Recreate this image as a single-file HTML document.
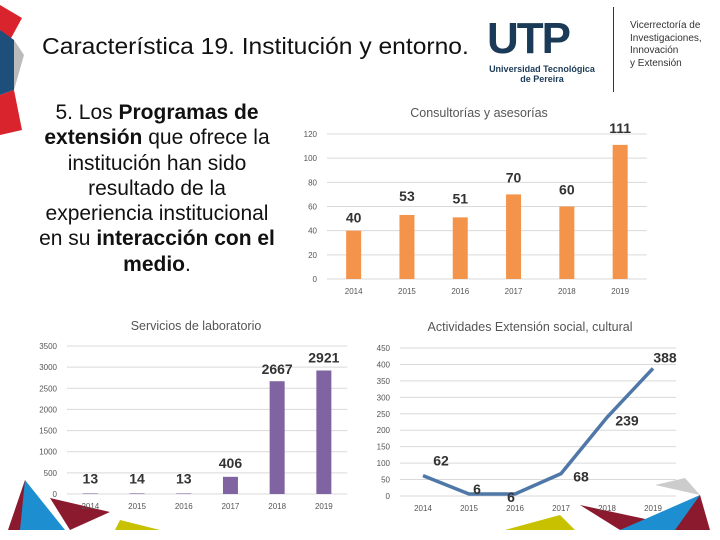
<!DOCTYPE html>
<html><head><meta charset="utf-8"><style>
body{margin:0;width:720px;height:540px;background:#fff;overflow:hidden;position:relative;font-family:"Liberation Sans",sans-serif}
.abs{position:absolute}
</style></head><body>
<svg class="abs" style="left:0;top:0" width="720" height="540">
<polygon points="0,5 22,18 10,40 0,30" fill="#d9232d"/>
<polygon points="0,30 14,40 14,90 0,95" fill="#1d4f7a"/>
<polygon points="14,40 24,55 14,90" fill="#bbb"/>
<polygon points="0,95 14,90 22,130 0,135" fill="#d9232d"/>
<polygon points="8,530 25,480 60,530" fill="#8c1a2e"/>
<polygon points="25,480 65,530 20,530" fill="#1d8fd0"/>
<polygon points="50,498 110,512 70,530" fill="#8c1a2e"/>
<polygon points="120,520 160,530 115,530" fill="#c7c100"/>
<polygon points="505,530 560,515 575,530" fill="#c7c100"/>
<polygon points="580,505 650,520 620,530" fill="#8c1a2e"/>
<polygon points="620,530 700,495 700,530" fill="#1d8fd0"/>
<polygon points="675,530 700,495 710,530" fill="#8c1a2e"/>
<polygon points="655,485 685,478 700,495" fill="#ccc"/>
</svg>
<div class="abs" style="left:42px;top:33px;font-size:23px;color:#111;transform:scaleX(1.07);transform-origin:left top;white-space:nowrap">Característica 19. Institución y entorno.</div>
<div class="abs" style="left:487px;top:14px;width:110px;height:70px">
<div style="font-size:44px;font-weight:bold;color:#1b3a57;letter-spacing:-2px;line-height:50px">UTP</div>
<div style="font-size:9px;color:#1b3a57;text-align:center;line-height:10px;font-weight:bold">Universidad Tecnológica<br>de Pereira</div></div>
<div class="abs" style="left:613px;top:7px;width:1px;height:85px;background:#1b3a57"></div>
<div class="abs" style="left:630px;top:20px;font-size:10px;line-height:12.5px;color:#333">Vicerrectoría de<br>Investigaciones,<br>Innovación<br>y Extensión</div>
<div class="abs" style="left:17px;top:100px;width:280px;text-align:center;font-size:21px;line-height:25.3px;color:#111;white-space:nowrap">5. Los <b>Programas de</b><br><b>extensión</b> que ofrece la<br>institución han sido<br>resultado de la<br>experiencia institucional<br>en su <b>interacción con el</b><br><b>medio</b>.</div>
<svg id="c" class="abs" style="left:0;top:0" width="720" height="540"></svg>
<script>
const years=["2014","2015","2016","2017","2018","2019"];
const consult=[40,53,51,70,60,111];
const consultTicks=[0,20,40,60,80,100,120];
const lab=[13,14,13,406,2667,2921];
const labTicks=[0,500,1000,1500,2000,2500,3000,3500];
const social=[62,6,6,68,239,388];
const socialTicks=[0,50,100,150,200,250,300,350,400,450];
const S=document.getElementById('c'),NS='http://www.w3.org/2000/svg';
function mk(t,a,txt){const e=document.createElementNS(NS,t);for(const k in a)e.setAttribute(k,a[k]);if(txt!==undefined)e.textContent=txt;S.appendChild(e);return e;}
function chart(o){
 const y=v=>o.y0-(v/o.max)*(o.y0-o.y1);
 const x=i=>o.x0+o.step*(i+0.5);
 o.ticks.forEach(t=>{const g=mk('line',{x1:o.x0,x2:o.x0+o.step*6,y1:y(t),y2:y(t),stroke:'#d9d9d9','stroke-width':1});
 
 const l=mk('text',{x:o.x0-10,y:y(t)+3,'font-size':8,fill:'#555','text-anchor':'end'},t);
 });
 years.forEach((yr,i)=>{const l=mk('text',{x:x(i),y:o.y0+15,'font-size':8,fill:'#555','text-anchor':'middle'},yr);
 });
 const t=mk('text',{x:o.tx,y:o.ty,'font-size':12.5,fill:'#555','text-anchor':'middle'},o.title);
 
 if(o.type==='bar'){o.data.forEach((v,i)=>{const r=mk('rect',{x:x(i)-7.5,y:y(v),width:15,height:o.y0-y(v),fill:o.color});
 
 const l=mk('text',{x:x(i)+(o.lx?o.lx[i]:0),y:Math.min(y(v)-6,o.y0-6)+(o.ly?o.ly[i]:0),'font-size':14,'font-weight':'bold',fill:'#333','text-anchor':'middle'},v);
 });}
 else{const p=mk('polyline',{points:o.data.map((v,i)=>x(i)+','+y(v)).join(' '),fill:'none',stroke:o.color,'stroke-width':3.5});
 
 const off=[[18,10],[8,0],[-4,-8],[20,-8],[20,-8],[12,6]];
 o.data.forEach((v,i)=>{const l=mk('text',{x:x(i)+off[i][0],y:y(v)-off[i][1],'font-size':14,'font-weight':'bold',fill:'#333','text-anchor':'middle'},v);
 });}
}
chart({type:'bar',data:consult,ticks:consultTicks,max:120,x0:327,step:53.3,y0:279,y1:134,color:'#f4934a',title:'Consultorías y asesorías',tx:479,ty:117,lx:[0,0,0,0,0,0],ly:[-2,-8,-8,-6,-6,-6]});
chart({type:'bar',data:lab,ticks:labTicks,max:3500,x0:67,step:46.7,y0:494,y1:346,color:'#8064a2',title:'Servicios de laboratorio',tx:196,ty:330,lx:[0,0,0,0,0,0],ly:[-4,-4,-4,-3,-1,-2]});
chart({type:'line',data:social,ticks:socialTicks,max:450,x0:400,step:46,y0:496,y1:348,color:'#4f77a8',title:'Actividades Extensión social, cultural',tx:530,ty:331});
</script>
</body></html>
